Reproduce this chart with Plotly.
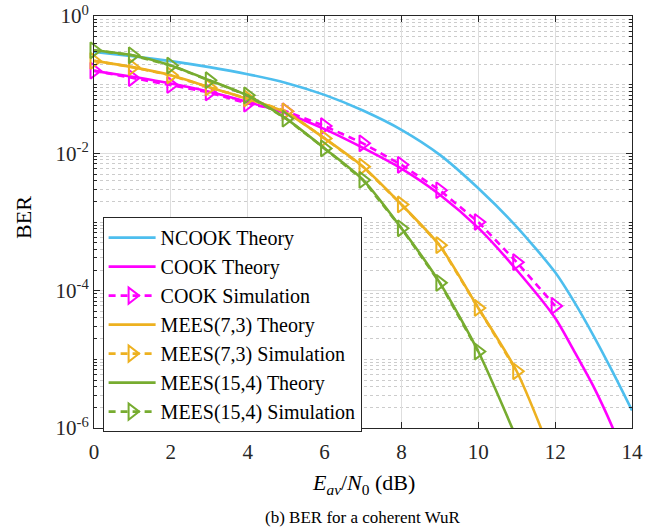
import plotly.graph_objects as go

# ---------------- data ----------------
ncook_x = [0, 1, 2, 3, 4, 5, 6, 7, 8, 9, 10, 11, 12, 12.5, 13, 13.5, 14]
ncook_theory = [0.30, 0.26, 0.22, 0.18, 0.142, 0.106, 0.071, 0.042, 0.022, 0.0095,
                0.0031, 8.5e-4, 1.85e-4, 6.8e-5, 2.2e-5, 6.5e-6, 1.8e-6]

cook_x = [0, 1, 2, 3, 4, 5, 6, 7, 8, 9, 10, 11, 12, 12.5, 13, 13.5, 14]
cook_theory = [0.159, 0.13, 0.104, 0.079, 0.056, 0.038, 0.0225, 0.012, 0.006, 0.0025,
               8.2e-4, 2.0e-4, 4.0e-5, 1.3e-5, 4.0e-6, 1.0e-6, 2.0e-7]
cook_sim_x = [0, 1, 2, 3, 4, 5, 6, 7, 8, 9, 10, 11, 12]
cook_sim = [0.16, 0.125, 0.099, 0.077, 0.053, 0.041, 0.025, 0.014, 0.0068, 0.0029,
            0.0010, 2.6e-4, 6e-5]

mees73_x = [0, 1, 2, 3, 4, 5, 6, 7, 8, 9, 10, 11, 12]
mees73_theory = [0.222, 0.18, 0.137, 0.092, 0.062, 0.039, 0.0165, 0.0064, 0.0018,
                 4.5e-4, 5.6e-5, 6.7e-6, 3e-7]
mees73_sim_x = [0, 1, 2, 3, 4, 5, 6, 7, 8, 9, 10, 11]
mees73_sim = [0.222, 0.18, 0.137, 0.091, 0.063, 0.041, 0.0165, 0.0064, 0.0018,
              4.6e-4, 5.6e-5, 6.7e-6]

mees154_x = [0, 1, 2, 3, 4, 5, 6, 7, 8, 9, 10, 11]
mees154_theory = [0.317, 0.268, 0.19, 0.116, 0.069, 0.032, 0.0118, 0.0041, 8.1e-4,
                  1.3e-4, 1.3e-5, 7e-7]
mees154_sim_x = [0, 1, 2, 3, 4, 5, 6, 7, 8, 9, 10]
mees154_sim = [0.317, 0.268, 0.19, 0.116, 0.070, 0.032, 0.0118, 0.0041, 8.1e-4,
               1.3e-4, 1.3e-5]

x_ticks = [0, 2, 4, 6, 8, 10, 12, 14]
y_tickvals = [1e-6, 1e-4, 1e-2, 1]
y_ticktext = ["10<sup>-6</sup>", "10<sup>-4</sup>", "10<sup>-2</sup>", "10<sup>0</sup>"]

# ---------------- styles ----------------
BLUE = "#4DBEEE"
MAGENTA = "#FF00FF"
ORANGE = "#EDB120"
GREEN = "#77AC30"
FONT = "'Liberation Serif', 'Times New Roman', 'DejaVu Serif', serif"
AX = "#262626"
LW = 2.6

fig = go.Figure()


def theory(x, y, name, color, grp):
    fig.add_trace(go.Scatter(
        x=x, y=y, name=name, mode="lines", legendgroup=grp,
        line=dict(color=color, width=LW, shape="spline", smoothing=0.7)))


def sim(x, y, name, color, grp):
    fig.add_trace(go.Scatter(
        x=x, y=y, name=name, mode="lines+markers", legendgroup=grp,
        cliponaxis=False,
        line=dict(color=color, width=LW, dash="7px,5px"),
        marker=dict(symbol="triangle-right-open", size=14, color=color,
                    line=dict(color=color, width=2))))


theory(ncook_x, ncook_theory, "NCOOK Theory", BLUE, "g1")
theory(cook_x, cook_theory, "COOK Theory", MAGENTA, "g2")
sim(cook_sim_x, cook_sim, "COOK Simulation", MAGENTA, "g3")
theory(mees73_x, mees73_theory, "MEES(7,3) Theory", ORANGE, "g4")
sim(mees73_sim_x, mees73_sim, "MEES(7,3) Simulation", ORANGE, "g5")
theory(mees154_x, mees154_theory, "MEES(15,4) Theory", GREEN, "g6")
sim(mees154_sim_x, mees154_sim, "MEES(15,4) Simulation", GREEN, "g7")

fig.update_layout(
    width=668, height=531,
    margin=dict(l=94, r=36, t=16, b=103, autoexpand=False),
    paper_bgcolor="white", plot_bgcolor="white",
    font=dict(family=FONT, size=21, color=AX),
    showlegend=True,
    legend=dict(
        x=0.016, y=-0.01, xanchor="left", yanchor="bottom",
        bgcolor="white", bordercolor=AX, borderwidth=1,
        font=dict(family=FONT, size=20, color="black"),
        tracegroupgap=0, itemwidth=47,
    ),
    xaxis=dict(
        range=[0, 14], tickvals=x_ticks, ticks="inside", ticklen=6,
        tickcolor=AX, showline=True, linecolor=AX, linewidth=1, mirror="ticks",
        showgrid=True, gridcolor="#dedede", gridwidth=1, zeroline=False,
        automargin=False, ticklabelstandoff=5,
        tickfont=dict(family=FONT, size=21, color=AX),
    ),
    yaxis=dict(
        type="log", range=[-6, 0], tickvals=y_tickvals, ticktext=y_ticktext,
        ticks="inside", ticklen=6, tickcolor=AX, showline=True, linecolor=AX,
        linewidth=1, mirror="ticks", showgrid=True, gridcolor="#dedede",
        gridwidth=1, zeroline=False, automargin=False,
        tickfont=dict(family=FONT, size=21, color=AX),
        minor=dict(dtick="D1", ticks="inside", ticklen=3, tickcolor=AX,
                   showgrid=True, gridcolor="#cccccc", griddash="dot", gridwidth=1),
    ),
    annotations=[
        dict(text="BER", xref="paper", yref="paper", x=-0.13, y=0.51,
             textangle=-90, showarrow=False, xanchor="center", yanchor="middle",
             font=dict(family=FONT, size=22, color="black")),
        dict(text="<i>E</i><sub><i>av</i></sub>/<i>N</i><sub>0</sub> (dB)",
             xref="paper", yref="paper", x=0.5, y=-0.137, showarrow=False,
             xanchor="center", yanchor="middle",
             font=dict(family=FONT, size=22, color="black")),
        dict(text="(b) BER for a coherent WuR", xref="paper", yref="paper",
             x=0.5, y=-0.218, showarrow=False, xanchor="center", yanchor="middle",
             font=dict(family=FONT, size=17, color="black")),
    ],
)

fig.write_html("out.html",
               config={"displayModeBar": False},
               post_script="document.body.style.margin='0';"
                           "document.body.style.padding='0';")
